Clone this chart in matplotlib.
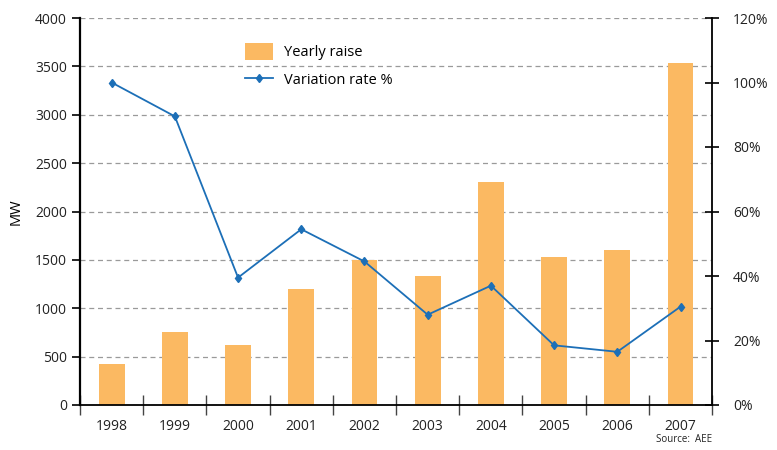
import matplotlib.pyplot as plt
import numpy as np
from matplotlib.patches import Patch
from matplotlib.lines import Line2D

plt.rcParams['font.family'] = ['Open Sans', 'DejaVu Sans']

years = ['1998', '1999', '2000', '2001', '2002', '2003', '2004', '2005', '2006', '2007']
yearly_raise = [420, 750, 620, 1200, 1500, 1330, 2310, 1530, 1600, 3540]
variation_rate = [100.0, 89.5, 39.5, 54.5, 44.5, 28.0, 37.0, 18.5, 16.5, 30.5]

bar_color = '#FBB962'
line_color = '#1C6FB7'

fig = plt.figure(figsize=(7.77, 4.5), dpi=100)
ax = fig.add_axes([0.103, 0.1, 0.8135, 0.86])
x = np.arange(len(years))

ax.bar(x, yearly_raise, width=0.41, color=bar_color, zorder=2)
ax.set_ylim(0, 4000)
ax.set_xlim(-0.5, len(years) - 0.5)
ax.set_yticks(np.arange(0, 4001, 500))
ax.yaxis.grid(True, linestyle=(0, (4, 3)), color='#9a9a9a', linewidth=0.9)
ax.set_axisbelow(True)
ax.set_ylabel('MW', fontsize=10.5, labelpad=8)

ax.set_xticks(x)
ax.set_xticklabels(years)
ax.tick_params(axis='x', which='major', length=0, pad=10, labelsize=10, colors='#222222')
ax.set_xticks(np.arange(-0.5, len(years), 1), minor=True)
ax.tick_params(axis='x', which='minor', direction='inout', length=14, width=1, color='#444444')
ax.tick_params(axis='y', direction='out', length=6, width=1.2, labelsize=10,
               colors='black', labelcolor='#222222')

ax.spines['top'].set_visible(False)
ax.spines['left'].set_linewidth(1.6)
ax.spines['bottom'].set_linewidth(1.3)
ax.spines['right'].set_visible(False)

ax2 = ax.twinx()
ax2.plot(x, variation_rate, color=line_color, linewidth=1.3, marker='d',
         markersize=4.5, zorder=3)
ax2.set_ylim(0, 120)
ax2.set_yticks(np.arange(0, 121, 20))
ax2.set_yticklabels([f'{v}%' for v in range(0, 121, 20)])
ax2.tick_params(axis='y', direction='inout', length=10, width=1.2, pad=10,
                labelsize=10, labelcolor='#222222')
ax2.spines['top'].set_visible(False)
ax2.spines['left'].set_visible(False)
ax2.spines['bottom'].set_visible(False)
ax2.spines['right'].set_linewidth(1.3)

handles = [Patch(facecolor=bar_color, edgecolor='none'),
           Line2D([0], [0], color=line_color, linewidth=1.3, marker='d', markersize=4.5)]
leg = ax2.legend(handles, ['Yearly raise', 'Variation rate %'], loc='upper left',
                 bbox_to_anchor=(0.24, 0.97), frameon=False, fontsize=10.5,
                 handlelength=1.9, handleheight=1.4, labelspacing=0.75, handletextpad=0.8)

fig.text(0.917, 0.012, 'Source:  AEE', ha='right', va='bottom', fontsize=7, color='#222222')

fig.savefig('out.png', dpi=100)
